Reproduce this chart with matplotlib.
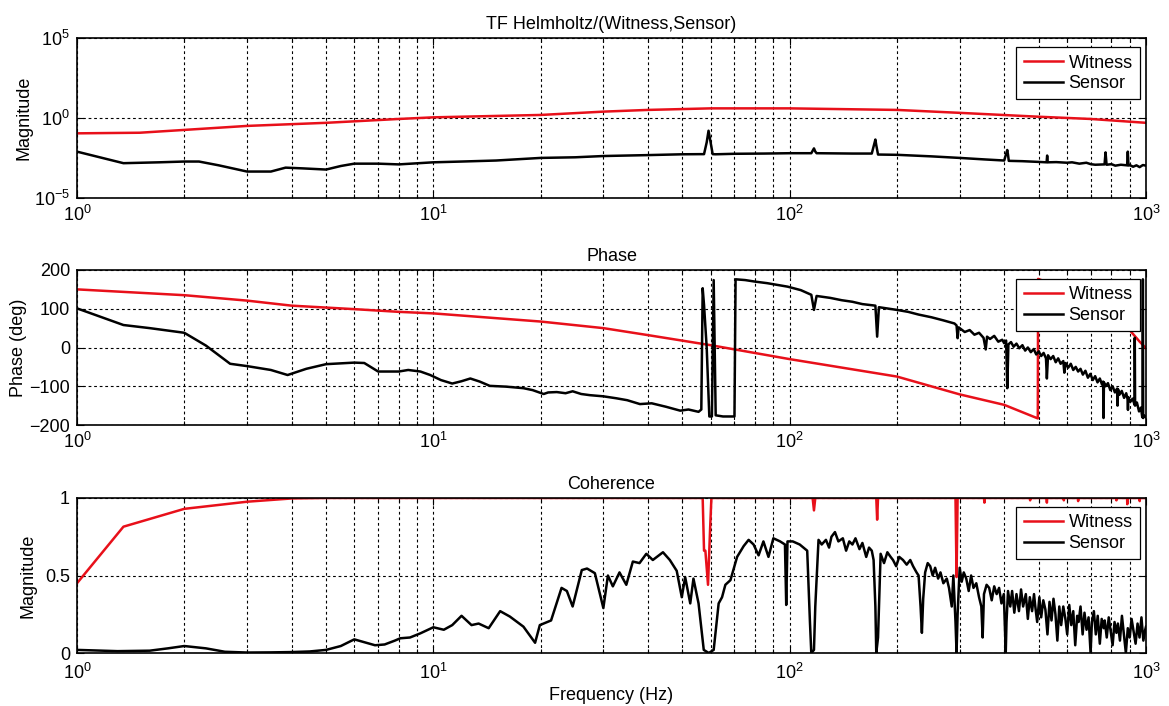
import numpy as np
import matplotlib
matplotlib.use("Agg")
import matplotlib.pyplot as plt
from matplotlib.ticker import LogLocator, FixedLocator, NullFormatter, LogFormatterMathtext, NullLocator

# ---------------- data ----------------
# Top panel: transfer-function magnitude
mag_w_f = [1, 1.5, 2, 3, 5, 8, 10, 20, 30, 40, 60, 100, 200, 300, 500, 700, 1000]
mag_w = [0.11, 0.12, 0.18, 0.32, 0.5, 0.87, 1.1, 1.55, 2.5, 3.2, 4.0, 4.0, 3.2, 2.1, 1.2, 0.87, 0.5]

mag_s_pts = [(1, 7.9e-3), (1.35, 1.5e-3), (1.7, 1.7e-3), (2, 1.9e-3), (2.2, 1.9e-3), (2.5, 1.1e-3),
             (3, 4.5e-4), (3.5, 4.5e-4), (3.85, 7.9e-4), (4.3, 7.1e-4), (5, 6.0e-4), (5.5, 1.0e-3),
             (6, 1.4e-3), (7, 1.4e-3), (8, 1.26e-3), (10, 1.7e-3), (12, 1.9e-3), (15, 2.2e-3),
             (20, 3.2e-3), (25, 3.5e-3), (30, 4.2e-3), (40, 4.8e-3), (50, 5.4e-3), (56, 5.5e-3),
             (57.5, 5.5e-3), (58.5, 3.0e-2), (59.2, 0.16), (60.0, 3.0e-2), (60.8, 5.5e-3),
             (62, 5.4e-3), (70, 5.8e-3), (85, 6.0e-3), (100, 6.3e-3), (115, 6.3e-3), (117, 1.26e-2),
             (118, 8e-3), (119, 6.3e-3), (150, 6.0e-3), (170, 6.0e-3), (174, 4.5e-2), (175, 2.0e-2),
             (177, 5.2e-3), (200, 5.0e-3), (250, 4.0e-3), (300, 3.2e-3), (350, 2.6e-3),
             (400, 2.2e-3), (408, 1.0e-2), (410, 5e-3), (412, 2.1e-3), (450, 2.0e-3), (500, 1.8e-3),
             (526, 1.7e-3), (528, 4.5e-3), (530, 1.7e-3), (560, 1.75e-3), (600, 1.6e-3),
             (620, 1.7e-3), (650, 1.4e-3), (680, 1.6e-3), (700, 1.3e-3), (720, 1.2e-3),
             (765, 1.26e-3), (770, 7.1e-3), (775, 1.2e-3), (800, 1.3e-3), (820, 1.05e-3),
             (850, 1.2e-3), (885, 1.1e-3), (889, 7.9e-3), (893, 1.07e-3), (900, 1.15e-3),
             (920, 0.9e-3), (940, 1.1e-3), (960, 0.85e-3), (980, 1.15e-3), (1000, 1.05e-3)]

# Middle panel: phase (deg)
ph_w_f = [1, 2, 3, 4, 6, 8, 10, 20, 30, 40, 60, 100, 200, 300, 400, 497, 498, 600, 750,
          890, 960, 1000]
ph_w = [150, 135, 121, 108, 99, 92, 88, 67, 50, 32, 6, -30, -75, -121, -148, -183, 177,
        150, 105, 50, 15, -2]

ph_s_pts = [(1, 101), (1.35, 58), (1.6, 50), (2, 38), (2.3, 5), (2.69, -42), (3, -48), (3.5, -58),
            (3.9, -71), (4.4, -55), (5, -43), (6, -39), (6.4, -40), (7, -62), (8, -62), (8.5, -58),
            (9.2, -62), (9.8, -71), (10.5, -84), (11.3, -93), (12, -87), (12.7, -80), (13.5, -88),
            (14.4, -99), (16, -101), (17.9, -105), (19, -110), (20.4, -120), (21, -116),
            (22.2, -115), (23.5, -118), (24.6, -113), (26, -120), (27.5, -123), (30, -126),
            (32.6, -131), (35, -136), (38, -146), (41, -144), (45, -153), (49.3, -163),
            (52, -160), (55.5, -166), (56.5, -160), (57.0, 153), (57.5, 110), (58.5, 0),
            (59.5, -178), (60.5, -178), (61.2, 174), (62.0, -175), (65, -178), (70, -178),
            (70.5, 176), (75, 174), (80, 170), (86.5, 166), (98.7, 157), (107.5, 148), (115, 136),
            (117, 97), (119, 133), (130, 128), (140, 122), (150, 118), (160, 112), (174, 108),
            (176, 28), (178, 104), (190, 100), (200, 97), (215, 92), (230, 85), (250, 78),
            (270, 70), (290, 62), (294, 57), (296, 24), (298, 52), (310, 40), (320, 45), (330, 33),
            (340, 38), (350, 25), (355, -5), (358, 28), (365, 22), (375, 30), (385, 15), (395, 20),
            (400, 11), (405, 18), (408, -105), (411, 8), (418, 14), (425, 2), (433, 10), (441, -2),
            (450, 6), (458, -8), (466, 0), (475, -12), (484, -4), (492, -18), (500, -10),
            (508, -22), (516, -14), (524, -28), (527, -80), (531, -20), (540, -30), (549, -22),
            (558, -38), (567, -28), (576, -42), (586, -35), (590, -65), (595, -40), (605, -52),
            (615, -42), (625, -58), (635, -50), (645, -62), (655, -55), (665, -70), (676, -60),
            (687, -78), (698, -68), (709, -84), (720, -74), (731, -90), (742, -80), (753, -96),
            (758, -88), (760, -182), (762, -90), (770, -100), (782, -92), (794, -110), (806, -100),
            (818, -116), (830, -106), (832, -150), (835, -108), (842, -122), (855, -112),
            (868, -130), (880, -118), (888, -134), (890, -161), (892, -128), (904, -140),
            (917, -132), (929, -148), (930, 25), (932, -150), (943, -142), (956, -165),
            (968, -155), (976, -180), (978, -170), (980, 176), (982, -182), (990, -176),
            (1000, -180)]

# Bottom panel: coherence
coh_w_f = [1, 1.35, 2, 3, 4, 5, 57.0, 57.5, 58.0, 59.0, 59.8, 60.3, 116, 117, 118, 175,
           176, 177, 292, 294, 296, 351, 352, 353, 472, 473, 474, 526, 527, 528, 587, 588,
           589, 644, 645, 646, 825, 826, 827, 885, 886, 887, 959, 960, 961, 1000]
coh_w = [0.45, 0.815, 0.93, 0.976, 0.997, 1.0, 1.0, 0.66, 0.66, 0.44, 0.8, 1.0, 1.0, 0.92, 1.0,
         1.0, 0.86, 1.0, 1.0, 0.49, 1.0, 1.0, 0.97, 1.0, 1.0, 0.985, 1.0, 1.0, 0.97, 1.0,
         1.0, 0.985, 1.0, 1.0, 0.98, 1.0, 1.0, 0.985, 1.0, 1.0, 0.96, 1.0, 1.0, 0.98, 1.0, 1.0]

coh_s_pts = [(1, 0.02), (1.3, 0.012), (1.6, 0.015), (1.8, 0.03), (2, 0.045), (2.3, 0.03),
             (2.6, 0.008), (3, 0.003), (3.5, 0.004), (4, 0.006), (4.5, 0.01), (5, 0.02),
             (5.5, 0.045), (6, 0.088), (6.5, 0.065), (6.86, 0.05), (7.3, 0.055), (7.8, 0.08),
             (8.08, 0.095), (8.6, 0.1), (9.2, 0.127), (10.0, 0.166), (10.7, 0.15), (11.3, 0.18),
             (12.0, 0.24), (12.8, 0.18), (13.4, 0.19), (14.3, 0.16), (15.4, 0.27), (16.4, 0.235),
             (17.9, 0.17), (19.3, 0.066), (19.9, 0.18), (21.4, 0.21), (22.9, 0.42), (23.7, 0.40),
             (24.6, 0.30), (26.1, 0.535), (27.0, 0.545), (28.4, 0.515), (30.0, 0.29), (30.9, 0.5),
             (31.9, 0.43), (33.3, 0.52), (34.8, 0.44), (36.3, 0.59), (37.9, 0.58), (39.6, 0.64),
             (41.3, 0.6), (44.1, 0.65), (46.1, 0.6), (48.2, 0.53), (49.8, 0.36), (50.9, 0.49),
             (52.6, 0.32), (53.7, 0.48), (55.5, 0.32), (57.4, 0.02), (59.3, 0.0), (61.2, 0.02),
             (63.2, 0.32), (64.6, 0.36), (66, 0.44), (68.2, 0.47), (71.2, 0.62), (74.3, 0.69),
             (76.7, 0.73), (79.2, 0.70), (81.8, 0.63), (84.4, 0.72), (87.2, 0.62), (90, 0.74),
             (94, 0.72), (97.0, 0.70), (97.8, 0.31), (98.6, 0.72), (102, 0.72), (106.7, 0.70),
             (112, 0.66), (114, 0.2), (115, 0.0), (117, 0.02), (118, 0.3), (120.5, 0.73),
             (123, 0.70), (126.4, 0.73), (129, 0.68), (131, 0.75), (134, 0.78), (137, 0.72),
             (141, 0.74), (144, 0.66), (147, 0.72), (150, 0.70), (153, 0.74), (157, 0.67),
             (160, 0.71), (164, 0.62), (167, 0.68), (170, 0.66), (172, 0.6), (174, 0.3),
             (175, 0.0), (177, 0.1), (180, 0.64), (184, 0.58), (188, 0.65), (192, 0.62),
             (195, 0.6), (199, 0.56), (203, 0.62), (208, 0.6), (213, 0.57), (218, 0.6),
             (222, 0.56), (227, 0.52), (230, 0.5), (233, 0.3), (235, 0.13), (237, 0.35),
             (240, 0.52), (244, 0.58), (248, 0.56), (252, 0.5), (256, 0.55), (261, 0.48),
             (265, 0.52), (270, 0.45), (276, 0.48), (280, 0.42), (285, 0.3), (288, 0.5),
             (292, 0.2), (294, 0.0), (296, 0.25), (300, 0.55), (304, 0.46), (308, 0.52),
             (313, 0.48), (318, 0.4), (323, 0.5), (328, 0.42), (334, 0.45), (340, 0.36),
             (345, 0.3), (348, 0.1), (351, 0.38), (357, 0.44), (363, 0.42), (369, 0.34),
             (375, 0.43), (381, 0.38), (387, 0.42), (393, 0.32), (399, 0.38), (402, 0.15),
             (404, 0.0), (406, 0.2), (410, 0.4), (416, 0.3), (421, 0.4), (427, 0.26), (433, 0.38),
             (440, 0.27), (446, 0.41), (452, 0.3), (460, 0.38), (466, 0.22), (472, 0.36),
             (479, 0.27), (485, 0.38), (489, 0.3), (495, 0.2), (502, 0.36), (508, 0.23),
             (515, 0.34), (522, 0.28), (529, 0.12), (536, 0.33), (543, 0.21), (550, 0.35),
             (557, 0.25), (564, 0.08), (571, 0.3), (578, 0.18), (586, 0.3), (594, 0.22),
             (601, 0.12), (609, 0.31), (617, 0.18), (625, 0.27), (633, 0.05), (641, 0.24),
             (647, 0.2), (655, 0.3), (664, 0.12), (672, 0.26), (681, 0.15), (690, 0.23),
             (699, 0.0), (705, 0.2), (714, 0.27), (723, 0.12), (732, 0.24), (742, 0.06),
             (751, 0.22), (761, 0.16), (766, 0.21), (776, 0.1), (786, 0.23), (796, 0.14),
             (806, 0.05), (816, 0.2), (826, 0.13), (834, 0.19), (845, 0.08), (856, 0.24),
             (867, 0.12), (878, 0.0), (889, 0.16), (900, 0.1), (911, 0.22), (923, 0.14),
             (935, 0.06), (947, 0.19), (959, 0.1), (971, 0.23), (983, 0.08), (995, 0.15),
             (1000, 0.17)]

titles = ["TF Helmholtz/(Witness,Sensor)", "Phase", "Coherence"]
ylabels = ["Magnitude", "Phase (deg)", "Magnitude"]
legend_labels = ["Witness", "Sensor"]
xlabel = "Frequency (Hz)"

# ---------------- style ----------------
plt.rcParams["font.family"] = ["Liberation Sans", "DejaVu Sans"]
plt.rcParams["mathtext.fontset"] = "custom"
plt.rcParams["mathtext.rm"] = "Liberation Sans"
plt.rcParams["mathtext.it"] = "Liberation Sans:italic"
plt.rcParams["mathtext.bf"] = "Liberation Sans:bold"
FS = 13
LW = 1.8
RED = "#e8101a"

fig = plt.figure(figsize=(11.69, 7.06), dpi=100)
L, W = 77 / 1169, 1069 / 1169
ax1 = fig.add_axes([L, (706 - 198) / 706, W, 160 / 706])
ax2 = fig.add_axes([L, (706 - 425) / 706, W, 155 / 706])
ax3 = fig.add_axes([L, (706 - 653) / 706, W, 155 / 706])

mag_s_f, mag_s = zip(*mag_s_pts)
ph_s_f, ph_s = zip(*ph_s_pts)
coh_s_f, coh_s = zip(*coh_s_pts)

ax1.plot(mag_w_f, mag_w, color=RED, lw=LW, label=legend_labels[0])
ax1.plot(mag_s_f, mag_s, color="black", lw=LW, label=legend_labels[1])
ax1.set_yscale("log")
ax1.set_ylim(1e-5, 1e5)
ax1.yaxis.set_major_locator(FixedLocator([1e-5, 1e0, 1e5]))
ax1.yaxis.set_major_formatter(LogFormatterMathtext())
ax1.yaxis.set_minor_locator(NullLocator())

ax2.plot(ph_w_f, ph_w, color=RED, lw=LW, label=legend_labels[0])
ax2.plot(ph_s_f, ph_s, color="black", lw=LW, label=legend_labels[1])
ax2.set_ylim(-200, 200)
ax2.set_yticks([-200, -100, 0, 100, 200])

ax3.plot(coh_w_f, coh_w, color=RED, lw=LW, label=legend_labels[0])
ax3.plot(coh_s_f, coh_s, color="black", lw=LW, label=legend_labels[1])
ax3.set_ylim(0, 1)
ax3.set_yticks([0, 0.5, 1])
ax3.set_yticklabels(["0", "0.5", "1"])

ylab_x = [(32 - 77) / 1069, (27 - 77) / 1069, (37 - 77) / 1069]
for i, ax in enumerate([ax1, ax2, ax3]):
    ax.set_xscale("log")
    ax.set_xlim(1, 1000)
    ax.xaxis.set_major_locator(FixedLocator([1, 10, 100, 1000]))
    ax.xaxis.set_major_formatter(LogFormatterMathtext())
    ax.xaxis.set_minor_locator(LogLocator(base=10, subs=np.arange(2, 10), numticks=20))
    ax.xaxis.set_minor_formatter(NullFormatter())
    ax.set_axisbelow(True)
    ax.grid(True, which="major", axis="both", color="black", lw=0.8, linestyle=(0, (2.5, 2.5)))
    ax.grid(True, which="minor", axis="x", color="black", lw=0.8, linestyle=(0, (2.5, 2.5)))
    ax.tick_params(which="both", direction="in", top=True, right=True, labelsize=FS,
                   colors="black", width=0.8)
    ax.tick_params(which="major", length=5, pad=5)
    ax.tick_params(which="minor", length=3)
    for s in ax.spines.values():
        s.set_linewidth(1.2)
        s.set_color("black")
    ax.set_title(titles[i], fontsize=FS, pad=6.5)
    ax.set_ylabel(ylabels[i], fontsize=FS)
    ax.yaxis.set_label_coords(ylab_x[i], 0.5)
    leg = ax.legend(loc="upper right", bbox_to_anchor=(1 - 6 / 1069, 1 - 9 / 155),
                    borderaxespad=0, fontsize=FS, fancybox=False, framealpha=1,
                    edgecolor="black", handlelength=2.2, handletextpad=0.3,
                    labelspacing=0.2, borderpad=0.4)
    leg.get_frame().set_linewidth(0.9)
    leg.set_zorder(10)

# keep the bottom "0" y-label clear of the "10^0" x-label
ax3.tick_params(axis="x", which="major", pad=7)
ax3.set_xlabel(xlabel, fontsize=FS, labelpad=3)

fig.savefig("out.png", dpi=100, facecolor="white")
